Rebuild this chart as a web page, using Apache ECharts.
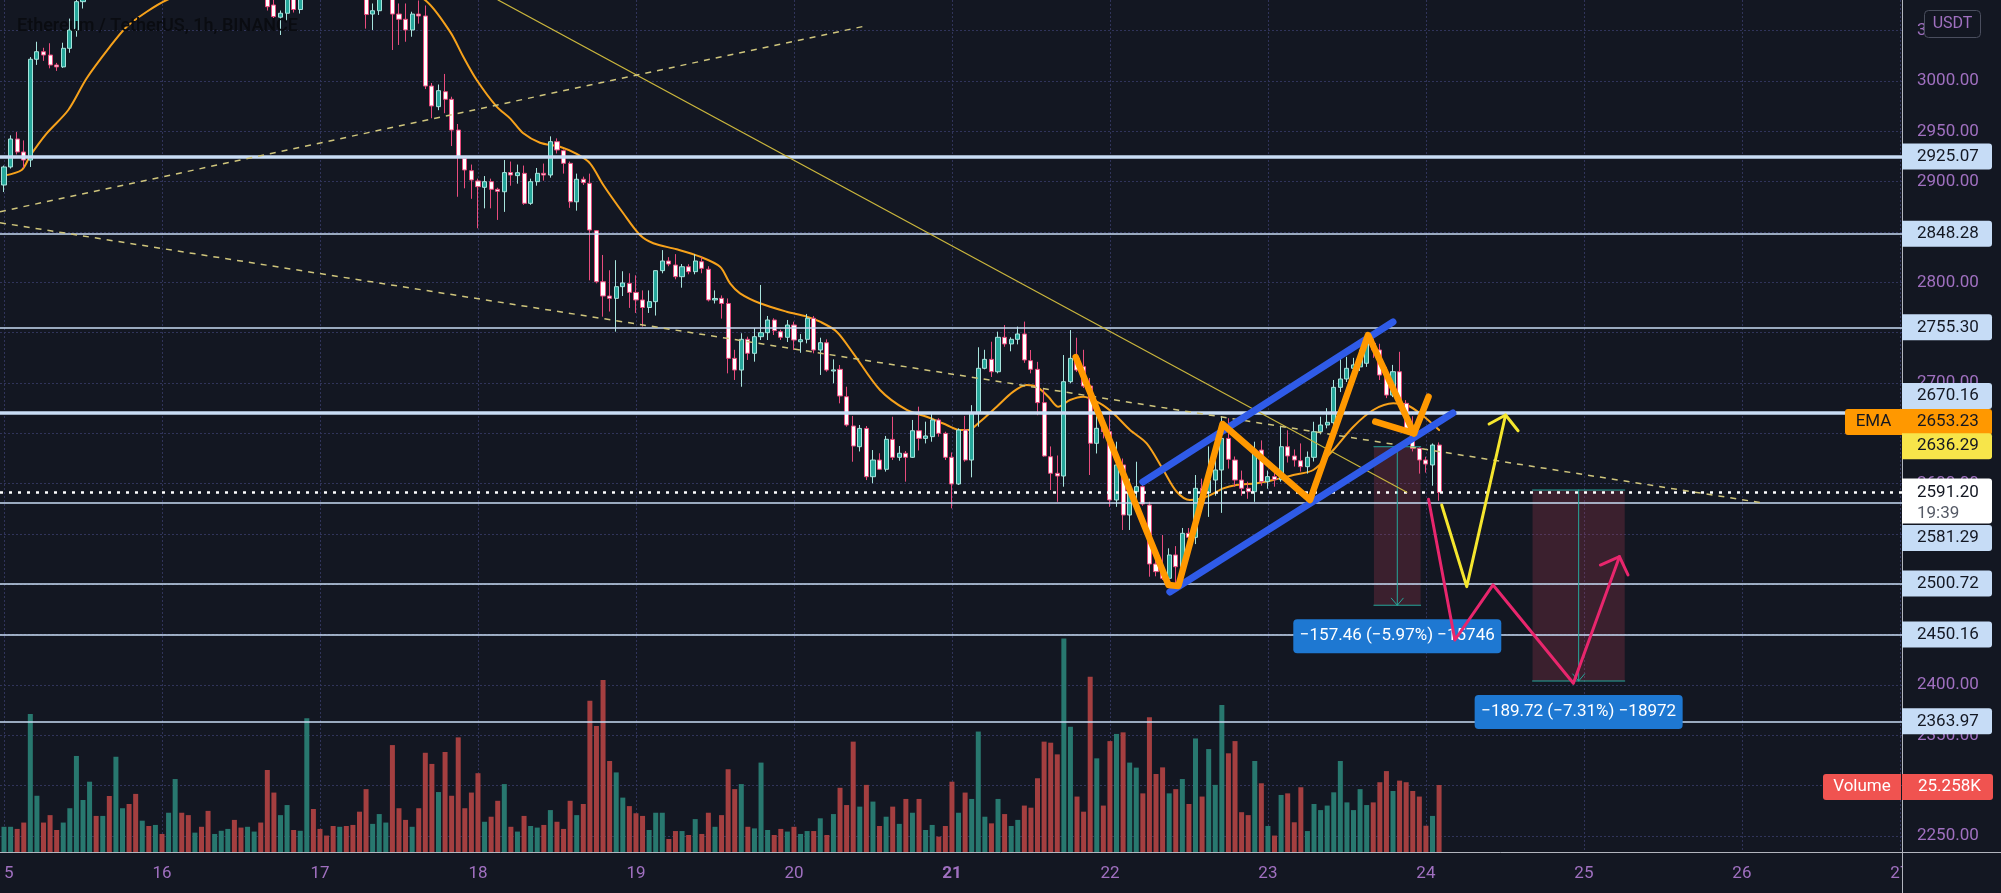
<!DOCTYPE html>
<html>
<head>
<meta charset="utf-8">
<title>Ethereum / TetherUS, 1h, BINANCE</title>
<script src="https://cdn.jsdelivr.net/npm/echarts@6.0.0/dist/echarts.min.js"></script>
<style>
html,body{margin:0;padding:0;background:#131722;overflow:hidden}
#chart{width:2001px;height:893px}
</style>
</head>
<body>
<div id="chart"></div>
<script>
// ---------- DATA (hour index 0 = day 15 00:00) ----------
const opens = [2896.7,2914.6,2942.4,2929.5,2921.5,3021.6,3029.1,3025.8,3015.9,3014,3032.5,3050.7,3078.8,3092,3104,3096,3112,3105,3128,3136,3126,3114,3122,3116,3121,3115,3124,3140,3130,3122,3126,3120,3110,3113,3117,3121,3112,3104,3107,3110,3096,3075.5,3063.4,3067.3,3090,3071,3090,3102,3096,3090,3087,3086,3094,3092,3090,3088,3066.5,3069.8,3082,3094,3066.5,3061.3,3050.7,3066.5,3064.6,2995,2974.5,2989.4,2981.8,2951.3,2923.2,2910.9,2900.7,2894.4,2900,2892.4,2890,2909,2906,2908.3,2878.5,2900,2908.3,2906.6,2939.7,2930.8,2918.2,2880,2902.4,2898.4,2851.3,2800.6,2786.4,2784.1,2795.7,2799,2790,2782.5,2775,2780.8,2811.6,2821.2,2817.2,2805.6,2815.5,2810.6,2820.5,2813,2782.5,2784.1,2779,2724.5,2712.9,2743.4,2729.5,2746,2750,2762.6,2751,2745.4,2757.6,2741,2743.4,2764.3,2732.8,2740,2711.9,2713.6,2686.4,2657.3,2636.7,2654.9,2606.9,2623.5,2614.3,2644,2626.2,2630.2,2626.2,2652.6,2645,2646.7,2663.3,2650,2626.2,2599.7,2653.3,2623.5,2669.9,2714.6,2723.5,2711.2,2745.4,2738.8,2743.4,2748.7,2722.2,2713.6,2680.5,2626.8,2610.3,2607.6,2701.3,2724.5,2716.2,2697,2640.1,2655,2651.6,2583.8,2618.6,2568.9,2592,2597,2578.8,2520.2,2512.6,2506,2529.2,2517.5,2550.7,2546.7,2595.4,2591,2603.6,2613.6,2645,2623.5,2603.6,2595.4,2592,2633.4,2602,2607,2604,2636.7,2627.5,2622.8,2616.9,2626.2,2651.6,2658.3,2660.6,2695.7,2704,2714.6,2716,2719.6,2739.4,2732.8,2707.9,2688,2711.2,2679.8,2655,2635.1,2623.5,2618.6,2638.4];
const closes = [2914.6,2942.4,2929.5,2921.5,3021.6,3029.1,3025.8,3015.9,3014,3032.5,3050.7,3078.8,3092,3104,3096,3112,3105,3128,3136,3126,3114,3122,3116,3121,3115,3124,3140,3130,3122,3126,3120,3110,3113,3117,3121,3112,3104,3107,3110,3096,3073.8,3064,3067.3,3085,3071,3090,3102,3096,3090,3087,3086,3094,3092,3090,3088,3066,3069.8,3082,3094,3066.5,3061.3,3050.7,3066.5,3064.6,2995,2975.2,2990.4,2981.8,2951.3,2924.8,2911.6,2901.7,2895,2900,2892.4,2890.4,2909,2906.6,2908.9,2878.5,2900,2908.3,2906.6,2939.7,2931.5,2918.2,2880,2902.4,2899,2852,2800.6,2786.4,2784.1,2795.7,2799.4,2790,2782.5,2775,2780.8,2811.6,2821.2,2818.2,2805.6,2815.5,2810.6,2821.2,2813.9,2782.5,2784,2779,2724.5,2712.9,2743.4,2729.5,2746,2750,2762.6,2752,2745.4,2757.6,2742.7,2743,2764.3,2732.8,2740,2712.9,2713,2687.1,2658.3,2637.4,2654.9,2606.9,2623.5,2614.3,2644.1,2626.2,2630.2,2626.2,2652.6,2645,2647.4,2663.3,2650,2626.2,2599.7,2653.3,2623.5,2669.9,2714.6,2723.5,2711.2,2745.4,2738.8,2743.4,2748.7,2722.9,2713.6,2680.5,2627.5,2610.3,2607.6,2701.3,2724.5,2712.9,2697,2640.1,2655,2651.6,2583.8,2618.6,2568.9,2592,2597,2579.8,2520.2,2512.6,2506,2529.2,2517.5,2550.7,2546.7,2595.4,2591,2603.6,2613.6,2645,2624.2,2603.6,2595.4,2592,2633.4,2602,2607,2604,2636.7,2627.5,2623.5,2616.9,2626.2,2651.6,2658.3,2661,2695.7,2704,2714.6,2718,2726,2742.7,2732.8,2707.9,2688,2711.2,2679.8,2655,2635.1,2623.5,2619.5,2638.4,2591.2];
const lows = [2889.7,2913,2927,2913.6,2914.6,3016,3020,3012.6,3010,3013,3028,3044,3072,3088,3090,3093,3100,3102,3124,3120,3108,3110,3112,3113,3111,3112,3120,3126,3118,3119,3116,3104,3107,3111,3114,3108,3100,3101,3099,3090,3070,3057,3045.7,3060,3068,3067,3086,3091,3086,3083,3083,3084,3088,3086,3084,3052,3050.7,3065.6,3082,3030.8,3035.8,3039,3044,3057,2992,2963,2971,2968,2935.4,2885,2893.4,2883,2853.7,2873.5,2873.5,2862,2870,2896,2898,2877,2877,2896,2901,2904,2928,2908,2874,2871.2,2896.7,2802,2799,2765.9,2771,2751,2786.4,2774.6,2769.6,2756,2769.6,2767,2809,2816,2803,2794.7,2808,2808,2809,2781,2779,2764,2709.6,2703,2696.3,2722.9,2721.2,2742.7,2742.7,2747.7,2742.7,2740.7,2732.8,2730,2739.4,2729.5,2708,2711.2,2699.7,2679.8,2656.6,2621.8,2632,2603.6,2600.4,2613.6,2612,2623.5,2622.8,2602,2625.5,2633,2640,2641.7,2646.7,2623.5,2575.5,2598.7,2621.8,2606.3,2656.6,2713.6,2706,2709.6,2736,2731.5,2738.4,2720,2709.6,2668,2626.8,2593.7,2582,2597,2699.7,2711,2695,2608.6,2630,2645,2577,2577,2554,2554,2583,2578,2507.6,2508,2504.3,2501,2500,2514,2540,2540,2580,2567,2588,2571,2615,2597,2588,2585,2582,2598,2595,2597,2602,2621,2617,2612,2610,2622,2649,2655,2657,2691,2701,2710,2712,2716,2725,2703,2685,2686,2676,2651,2632,2610,2611,2598,2583];
const highs = [2916,2946,2949.3,2941,3023.8,3039,3033,3037.5,3018,3038,3062,3085,3098,3110,3108,3118,3116,3135,3142,3140,3130,3126,3125,3124,3123,3128,3146,3143,3133,3129,3128,3123,3116,3120,3124,3123,3114,3110,3113,3112,3100,3085,3070,3090,3094,3096,3108,3106,3100,3094,3091,3097,3097,3095,3093,3092,3077,3088,3099,3097,3077,3077,3068.8,3080,3075,2998,2996.5,3007,2984.4,2957.3,2925,2917,2903,2905.6,2903,2894,2921.5,2920,2917,2916,2903,2913.6,2918,2945,2943,2932,2920,2908,2905,2908,2852,2827.2,2812,2822,2811,2809,2807,2792,2792,2812,2832,2825,2828,2818.2,2818,2828,2825,2816,2792,2787,2784,2733,2749.4,2746,2754.4,2797.4,2766.6,2764.3,2753,2762.6,2760.9,2748.7,2768.6,2766.6,2745,2743.4,2723.5,2717.9,2696.3,2667.3,2658.3,2657.3,2633.4,2630.2,2647.4,2666.5,2637.4,2632.4,2663.3,2676.5,2661.6,2670,2665,2651.6,2631,2655,2667.3,2678,2735.5,2733,2741,2751,2757.6,2745.4,2756,2761,2732.8,2721,2694,2637,2628,2727.8,2752.6,2745,2733,2705,2667,2662,2668,2641.7,2625,2605,2621.8,2600,2582,2530,2549,2535.8,2538,2556,2556,2608.6,2605,2637,2627,2667,2665,2627,2613,2602,2641.7,2643,2613,2612,2656.6,2653,2634,2640,2632,2661.5,2666.5,2675,2703,2724.5,2726,2725,2733,2748.7,2744,2739,2716,2718,2731,2683,2667,2636,2626.8,2640,2641];
const volumesK = [9.5,9.5,8.7,11.1,52.0,21.2,11.1,13.9,8.3,11.1,16.5,36.2,19.6,26.5,13.6,13.6,21.1,35.9,16.5,18.1,21.9,11.8,9.8,10.2,6.8,14.8,27.5,14.8,13.9,7.3,9.5,15.5,6.8,8.0,8.7,12.1,9.2,9.5,7.7,11.1,30.9,22.4,13.9,17.7,8.3,8.0,50.4,16.2,8.7,6.2,9.8,9.5,9.8,10.2,15.2,23.7,10.6,14.3,11.1,40.3,16.5,12.1,9.5,16.5,37.4,33.2,22.6,37.7,21.2,43.2,16.5,22.4,29.7,11.4,13.3,19.3,25.6,9.5,7.7,13.6,9.8,9.2,10.2,15.8,11.4,8.7,19.3,13.9,18.1,57.0,47.5,64.8,34.3,30.0,20.5,17.3,14.6,13.6,8.3,14.8,14.8,4.9,7.9,7.9,6.4,12.4,6.8,14.8,9.5,13.9,31.2,23.7,25.6,9.5,8.9,33.7,8.3,6.4,8.7,7.7,9.5,6.8,7.9,7.9,12.7,6.4,14.3,24.2,17.7,41.6,17.1,25.3,19.0,9.8,13.3,17.1,10.6,20.0,14.8,20.0,8.3,10.2,5.8,9.8,26.5,14.8,22.4,20.0,45.4,13.3,10.8,20.0,14.3,9.8,12.1,17.5,16.7,27.8,41.6,41.2,36.8,80.5,47.2,20.9,15.2,66.1,35.3,17.5,41.8,44.5,45.1,33.7,31.8,22.1,50.8,29.4,31.9,22.1,23.7,27.5,18.1,42.8,20.9,38.8,25.3,55.4,37.2,41.8,15.0,13.9,34.3,25.9,9.8,6.2,21.5,22.1,11.2,24.4,7.9,18.1,15.8,17.5,22.5,34.3,18.7,15.8,23.7,17.7,18.7,26.3,30.5,23.0,26.9,26.3,23.0,20.9,9.9,13.6,25.258];
const emaPoints = [[0,2906],[2.69,2911.6],[3.95,2925.5],[6.49,2948],[9.77,2971.2],[12.56,3002.7],[16.1,3034.1],[18.64,3053.9],[21.68,3068.8],[24.72,3080.5],[30,3092],[38,3100],[46,3102],[54,3097],[60,3088],[63.95,3080.5],[67.75,3049],[69.77,3024.1],[71.81,3001],[74.84,2974.5],[76.87,2962.9],[78.89,2948],[81.42,2938.7],[84.46,2934.7],[86.99,2927.5],[89.02,2918.2],[91.04,2896.7],[94.07,2868.6],[96.61,2847],[98.63,2838.8],[102.19,2832.8],[105.73,2825.5],[108.77,2815.5],[110.29,2799],[111.81,2789.1],[114.84,2779.2],[118.9,2770.8],[121.94,2765.9],[123.96,2760.9],[126.49,2751],[129.01,2729.5],[133.07,2693.1],[137.13,2673.2],[140.16,2666.5],[143.2,2658.3],[145.22,2653.3],[146.48,2653.3],[148.26,2661.6],[150.8,2676.5],[153.32,2691.4],[155.35,2698],[156.87,2696.3],[158.64,2686.4],[160.15,2676.5],[161.93,2683.1],[163.95,2686.4],[166.49,2679.8],[168.51,2669.9],[171.05,2653.3],[173.58,2640.1],[176.11,2613.6],[178.14,2592],[180.16,2583.8],[182.7,2587.1],[185.22,2595.4],[187.25,2598.7],[190.29,2600.4],[192.81,2603.6],[195.85,2608.6],[198.89,2613.6],[201.93,2633.5],[204.97,2656.6],[208,2673.2],[211.04,2679.8],[213.08,2678.2],[215.1,2669.9],[218,2653.23]];

const dayTicks = [0,24,48,72,96,120,144,168,192,216,240,264,288];
const dayLabels = ['15','16','17','18','19','20','21','22','23','24','25','26','27'];
const priceGridTicks = [2250,2300,2350,2400,2450,2500,2550,2600,2650,2700,2750,2800,2850,2900,2950,3000,3050];
const priceLabelTicks = [2250,2350,2400,2600,2700,2800,2900,2950,3000,3050];

const levels = [2925.07,2848.28,2755.30,2670.16,2581.29,2500.72,2450.16,2363.97];
const thickLevels = [2925.07,2670.16];
const lastPrice = 2591.20;
const countdown = '19:39';
const emaValue = 2653.23;
const maValue = 2636.29;
const lastVolumeK = 25.258;

// drawings (hour, price)
const trendSolid = [[75.04,3080.5],[213.1,2591.5]];
const trendDashUp = [[-0.61,2870.2],[130.8,3054.6]];
const trendDashDown = [[-0.61,2859.2],[267.2,2580.8]];
const channelUpper = [[173.0,2601.7],[211.0,2760.6]];
const channelLower = [[177.1,2492.4],[220.1,2670.2]];
const orangePath = [[162.8,2725.8],[176.9,2499.3],[178.4,2498.4],[185.1,2659.3],[198.4,2583.8],[207.2,2747.7],[214.2,2650.0]];
const orangeHead = [[208.3,2661.6],[214.2,2650.0],[216.4,2686.4]];
const yellowPath = [[218.4,2578.8],[222.2,2497.7],[228.1,2668.2]];
const yellowHead = [[225.6,2659.3],[228.1,2668.2],[230.0,2652.6]];
const pinkPath = [[216.4,2584.5],[220.4,2444.7],[226.2,2499.4],[238.4,2401.7],[245.4,2527.5]];
const pinkHead = [[242.5,2519.2],[245.4,2527.5],[246.7,2509.3]];
const ranges = [
  {h1:208.1, h2:215.2, top:2636.7, bottom:2479.24, label:'\u2212157.46 (\u22125.97%) \u221215746'},
  {h1:232.2, h2:246.2, top:2593.7, bottom:2403.98, label:'\u2212189.72 (\u22127.31%) \u221218972'}
];

// ---------- STYLE ----------
const BG = '#131722';
const AXIS_TXT = '#a070c0';
const GRID_C = '#30345a';
const LEVEL_C = '#c9ddf5';
const FONT = 'Roboto, sans-serif';

const chart = echarts.init(document.getElementById('chart'), null, {width:2001, height:893});

const candleData = opens.map((o,i)=>[i, o, closes[i], lows[i], highs[i]]);
const volData = volumesK.map((v,i)=>({value:[i,v], itemStyle:{color: closes[i] >= opens[i] ? '#28786f' : '#a43f40'}}));

function lineSeries(name, data, color, width, z, extra){
  return Object.assign({
    name, type:'line', data, showSymbol:false, symbol:'none', silent:true, z,
    lineStyle:{color, width, cap:'round', join:'round'}, animation:false
  }, extra||{});
}

const rangeSeries = [];
ranges.forEach((r,k)=>{
  const mid = (r.h1+r.h2)/2;
  rangeSeries.push(lineSeries('rangeV'+k, [[mid,r.top],[mid,r.bottom]], '#26a69a', 1, 6));
  rangeSeries.push(lineSeries('rangeT'+k, [[r.h1,r.top],[r.h2,r.top]], '#26a69a', 1, 6));
  rangeSeries.push(lineSeries('rangeB'+k, [[r.h1,r.bottom],[r.h2,r.bottom]], '#26a69a', 1, 6));
  rangeSeries.push(lineSeries('rangeA'+k, [[mid-0.9,r.bottom+7],[mid,r.bottom],[mid+0.9,r.bottom+7]], '#26a69a', 1, 6));
});

const option = {
  backgroundColor: BG,
  animation: false,
  title: {
    text: 'Ethereum / TetherUS, 1h, BINANCE', left: 12, top: 12,
    textStyle: {color:'#0a0c11', fontSize:18, fontWeight:500, fontFamily:FONT}
  },
  grid: {left:0, top:0, width:1902, height:852, outerBoundsMode:'none', containLabel:false},
  xAxis: {
    type:'value', min:-0.6076, max:288.32,
    axisLine:{show:false},
    axisTick:{show:false, customValues: dayTicks},
    splitLine:{show:true, lineStyle:{color:GRID_C, width:1, type:[2,2]}},
    axisLabel:{
      show:true, customValues: dayTicks, margin:13,
      alignMinLabel:'center', alignMaxLabel:'center',
      color:AXIS_TXT, fontSize:17, fontFamily:FONT,
      formatter: v => { const i = dayTicks.indexOf(v); const t = i>=0 ? dayLabels[i] : ''; return t==='21' ? '{b|21}' : t; },
      rich:{b:{fontWeight:'bold', fontSize:17, color:AXIS_TXT, fontFamily:FONT}}
    }
  },
  yAxis: [
    {
      type:'value', position:'right', min:2234.13, max:3080.46, scale:true,
      axisLine:{show:false},
      axisTick:{show:false, customValues: priceGridTicks},
      splitLine:{show:true, lineStyle:{color:GRID_C, width:1, type:[2,2]}},
      axisLabel:{show:true, customValues: priceLabelTicks, inside:false, margin:15, align:'left',
        color:AXIS_TXT, fontSize:17, fontFamily:FONT, formatter: v => v.toFixed(2)}
    },
    {
      type:'value', position:'left', min:0, max:321.14, show:false,
      splitLine:{show:false}, axisLabel:{show:false}, axisTick:{show:false}, axisLine:{show:false}
    }
  ],
  series: [
    {name:'Volume', type:'bar', yAxisIndex:1, data:volData, barWidth:5, z:1, silent:true, animation:false},
    lineSeries('EMA', emaPoints, '#f7a21b', 2, 3, {smooth:0.3}),
    {
      name:'ETHUSDT', type:'candlestick', data:candleData, barWidth:4.6, z:4, clip:true,
      encode:{x:0, y:[1,2,3,4]},
      itemStyle:{color:'#26a69a', color0:'#ffffff', borderColor:'#a7e4dd', borderColor0:'#e84c7d', borderWidth:1}
    },
    {
      name:'levels', type:'line', data:[], z:5, silent:true,
      markLine:{
        symbol:['none','none'], silent:true, animation:false, label:{show:false},
        data: levels.map(v=>({yAxis:v, lineStyle:{color:LEVEL_C, width: thickLevels.indexOf(v)>=0 ? 3.5 : 1.5, type:'solid'}}))
          .concat([{yAxis:lastPrice, lineStyle:{color:'#ffffff', width:2.5, type:[3,6]}}])
      }
    },
    {
      name:'ranges', type:'line', data:[], z:5, silent:true,
      markArea:{silent:true, itemStyle:{color:'rgba(220,70,95,0.2)'},
        data: ranges.map(r=>[{coord:[r.h1,r.top]},{coord:[r.h2,r.bottom]}])}
    },
    ...rangeSeries,
    lineSeries('trendSolid', trendSolid, '#c8b43c', 1.2, 6),
    lineSeries('trendDashUp', trendDashUp, '#cfc57c', 1.5, 6, {lineStyle:{color:'#cfc57c', width:1.5, type:[6,6]}}),
    lineSeries('trendDashDown', trendDashDown, '#cfc57c', 1.5, 6, {lineStyle:{color:'#cfc57c', width:1.5, type:[6,6]}}),
    lineSeries('channelUpper', channelUpper, '#2f5be8', 7, 7),
    lineSeries('channelLower', channelLower, '#2f5be8', 7, 7),
    lineSeries('orangePath', orangePath, '#ff9800', 6.5, 8),
    lineSeries('orangeHead', orangeHead, '#ff9800', 6.5, 8),
    lineSeries('yellowPath', yellowPath, '#f5e62e', 3, 9),
    lineSeries('yellowHead', yellowHead, '#f5e62e', 3, 9),
    lineSeries('pinkPath', pinkPath, '#e8266d', 3, 10),
    lineSeries('pinkHead', pinkHead, '#e8266d', 3, 10)
  ]
};
chart.setOption(option);

// ---------- price-scale badges & labels ----------
const py = p => chart.convertToPixel({yAxisIndex:0}, p);
const vy = v => chart.convertToPixel({yAxisIndex:1}, v);
const pxy = (h,p) => chart.convertToPixel({xAxisIndex:0, yAxisIndex:0}, [h,p]);
const AX = 1902, BW = 90, BH = 26;
const g = [];
function rect(x,y,w,h,fill,r,z,stroke){
  g.push({type:'rect', z:z, silent:true, shape:{x,y,width:w,height:h,r:r||0}, style:{fill, stroke: stroke||null, lineWidth: stroke?1:0}});
}
function text(x,y,t,fill,align,z,size){
  g.push({type:'text', z:z, silent:true, x, y, style:{text:t, fill, font:(size||17)+'px '+FONT, align:align||'left', verticalAlign:'middle'}});
}
function badge(yc, t, bg, fg){
  rect(AX, yc-BH/2, BW, BH, bg, [0,3,3,0], 20);
  text(AX+15, yc, t, fg, 'left', 21);
}
// left-edge clip of the first day label and cover for x labels under the price scale
rect(-20, 853, 21, 40, BG, 0, 15);
rect(1903, 853, 98, 40, BG, 0, 15);
// separators
g.push({type:'line', z:16, silent:true, shape:{x1:AX+0.5, y1:0, x2:AX+0.5, y2:893}, style:{stroke:'#b2b5be', lineWidth:1}});
g.push({type:'line', z:16, silent:true, shape:{x1:0, y1:852.5, x2:2001, y2:852.5}, style:{stroke:'#b2b5be', lineWidth:1}});

const badgeShift = {2670.16:-17, 2581.29:35.5};
levels.forEach(v=>{
  badge(py(v) + (badgeShift[v]||0), v.toFixed(2), '#c6dcf6', '#131722');
});
// EMA
const emaY = py(emaValue) - 8;
rect(1845, emaY-BH/2, 57, BH, '#ff9800', [3,0,0,3], 20);
text(1873.5, emaY, 'EMA', '#131722', 'center', 21);
badge(emaY, emaValue.toFixed(2), '#ff9800', '#131722');
// yellow MA
badge(py(maValue) - 1, maValue.toFixed(2), '#f7e54a', '#131722');
// last price + countdown
const lpY = py(lastPrice);
rect(AX, lpY-14, BW, 45, '#ffffff', [0,3,3,0], 22);
text(AX+15, lpY, lastPrice.toFixed(2), '#131722', 'left', 23);
text(AX+15, lpY+21, countdown, '#555a66', 'left', 23);
// volume
const volY = vy(lastVolumeK) + 2;
rect(1823, volY-13, 78, 26, '#f05350', [3,0,0,3], 20);
text(1862, volY, 'Volume', '#ffffff', 'center', 21);
rect(AX, volY-13, 91, 26, '#f05350', [0,3,3,0], 20);
text(AX+16, volY, lastVolumeK.toFixed(3)+'K', '#ffffff', 'left', 21);
// currency
rect(1924.5, 10.5, 56, 27, BG, 4, 20, '#4a4e5e');
text(1952.5, 24, 'USDT', AXIS_TXT, 'center', 21, 16);
// range labels
ranges.forEach(r=>{
  const p = pxy((r.h1+r.h2)/2, r.bottom);
  rect(p[0]-104, p[1]+14, 208, 34, '#1e78d2', 4, 9);
  text(p[0], p[1]+31, r.label, '#ffffff', 'center', 9);
});
chart.setOption({graphic: g});
</script>
</body>
</html>
